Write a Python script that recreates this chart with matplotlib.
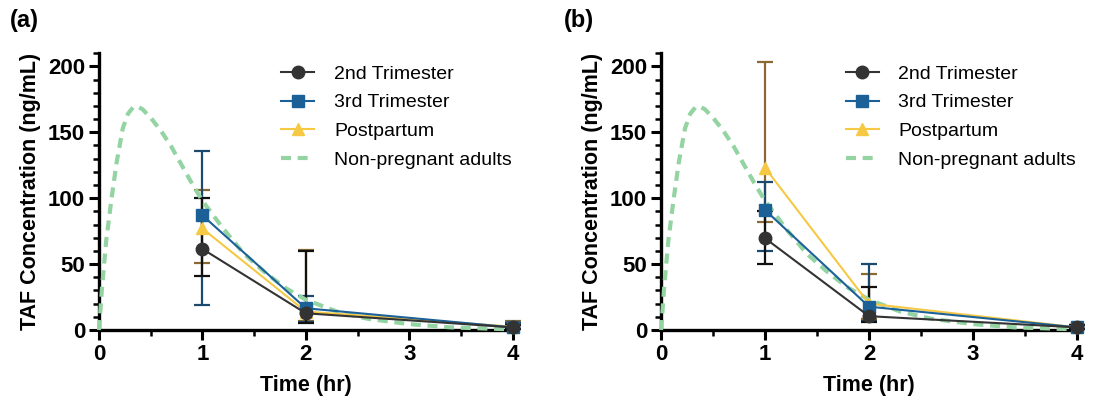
import matplotlib

matplotlib.use("Agg")
import matplotlib.pyplot as plt
from matplotlib.ticker import MultipleLocator

plt.rcParams.update({"font.family": ["Liberation Sans", "DejaVu Sans"], "font.size": 12})

# ---------------------------------------------------------------- data
TIME = [1, 2, 4]
SERIES = ["2nd Trimester", "3rd Trimester", "Postpartum"]

# panel (a)
a_2nd = [61.5, 12.7, 2.0]
a_2nd_lo = [41, 5, 0.5]
a_2nd_hi = [100, 60, 4]
a_3rd = [87, 16.5, 2.0]
a_3rd_lo = [19, 6, 0.5]
a_3rd_hi = [136, 26, 5]
a_pp = [77, 14, 2.5]
a_pp_lo = [51, 7, 0.5]
a_pp_hi = [106, 61, 7]

# panel (b)
b_2nd = [69.6, 10.5, 2.0]
b_2nd_lo = [50, 6, 0.5]
b_2nd_hi = [90, 32.5, 4]
b_3rd = [91, 17.7, 2.0]
b_3rd_lo = [60, 7, 0.5]
b_3rd_hi = [112, 50, 4]
b_pp = [123, 20, 2.0]
b_pp_lo = [82, 8, 0.5]
b_pp_hi = [203, 42.5, 4]

# non-pregnant adults reference profile
ref_t = [0, 0.03, 0.07, 0.12, 0.17, 0.23, 0.28, 0.33, 0.37, 0.42, 0.5, 0.6, 0.7,
         0.8, 0.9, 1.0, 1.2, 1.4, 1.6, 1.8, 2.0, 2.3, 2.6, 3.0, 3.4, 4.0]
ref_c = [0, 33, 68, 99, 127, 153, 164, 169, 169.5, 167.5, 161, 151, 139,
         125, 111, 98, 77, 58, 44, 32, 23, 14, 8.5, 4.5, 2, 0.5]

C_2ND = "#333333"
C_3RD = "#1b6198"
C_PP = "#f6c945"
EC_2ND = "#111111"
EC_3RD = "#1c4a6e"
EC_PP = "#8a6a32"
C_REF = "#94d3a2"

fig = plt.figure(figsize=(11, 4.12), dpi=100)
ax_a = fig.add_axes([0.09, 0.199, 0.376, 0.672])
ax_b = fig.add_axes([0.601, 0.199, 0.378, 0.672])


def draw(ax, d2, d2lo, d2hi, d3, d3lo, d3hi, dp, dplo, dphi):
    ax.plot(ref_t, ref_c, ls=(0, (2.4, 1.6)), lw=3, color=C_REF, zorder=3,
            label="Non-pregnant adults", clip_on=False)
    groups = [
        (dp, dplo, dphi, C_PP, EC_PP, "^", "Postpartum"),
        (d3, d3lo, d3hi, C_3RD, EC_3RD, "s", "3rd Trimester"),
        (d2, d2lo, d2hi, C_2ND, EC_2ND, "o", "2nd Trimester"),
    ]
    for k, (y, lo, hi, c, ec, m, lab) in enumerate(groups):
        yerr = [[v - l for v, l in zip(y, lo)], [h - v for v, h in zip(y, hi)]]
        ax.errorbar(TIME, y, yerr=yerr, fmt="none", ecolor=ec, elinewidth=1.6,
                    capsize=6, capthick=1.6, zorder=2 + k * 0.1, clip_on=False)
        ax.plot(TIME, y, color=c, lw=1.5, marker=m, ms=9, label=lab,
                zorder=4 + k * 0.1, clip_on=False)

    ax.set_xlim(0, 4)
    ax.set_ylim(0, 210)
    ax.xaxis.set_major_locator(MultipleLocator(1))
    ax.xaxis.set_minor_locator(MultipleLocator(0.5))
    ax.yaxis.set_major_locator(MultipleLocator(50))
    ax.yaxis.set_minor_locator(MultipleLocator(10))
    for s in ["top", "right"]:
        ax.spines[s].set_visible(False)
    for s in ["left", "bottom"]:
        ax.spines[s].set_linewidth(2.4)
    ax.tick_params(which="major", length=7, width=2.2, labelsize=16, pad=3)
    ax.tick_params(which="minor", length=4, width=1.8)
    for t in ax.get_xticklabels() + ax.get_yticklabels():
        t.set_fontweight("bold")
    ax.set_xlabel("Time (hr)", fontsize=15.5, fontweight="bold", labelpad=7)
    ax.set_ylabel("TAF Concentration (ng/mL)", fontsize=15.5, fontweight="bold", labelpad=5)

    h, l = ax.get_legend_handles_labels()
    order = [SERIES.index(x) if x in SERIES else 3 for x in l]
    hl = sorted(zip(order, h, l))
    ax.legend([x[1] for x in hl], [x[2] for x in hl], loc="upper right",
              bbox_to_anchor=(1.04, 1.02), frameon=False, fontsize=14,
              handlelength=1.7, labelspacing=0.57, handletextpad=1.0)


draw(ax_a, a_2nd, a_2nd_lo, a_2nd_hi, a_3rd, a_3rd_lo, a_3rd_hi, a_pp, a_pp_lo, a_pp_hi)
draw(ax_b, b_2nd, b_2nd_lo, b_2nd_hi, b_3rd, b_3rd_lo, b_3rd_hi, b_pp, b_pp_lo, b_pp_hi)

fig.text(0.009, 0.95, "(a)", fontsize=17, fontweight="bold", va="center")
fig.text(0.513, 0.95, "(b)", fontsize=17, fontweight="bold", va="center")

fig.savefig("out.png", dpi=100)
